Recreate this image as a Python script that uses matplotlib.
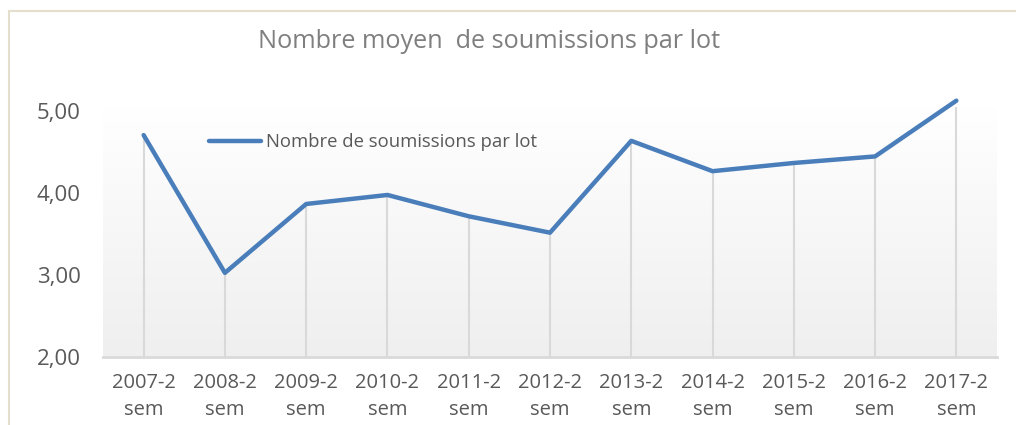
import matplotlib
matplotlib.use("Agg")
import matplotlib.pyplot as plt
import numpy as np
from matplotlib.patches import Rectangle

categories = ["2007-2\nsem", "2008-2\nsem", "2009-2\nsem", "2010-2\nsem", "2011-2\nsem",
              "2012-2\nsem", "2013-2\nsem", "2014-2\nsem", "2015-2\nsem", "2016-2\nsem",
              "2017-2\nsem"]
values = [4.70, 3.02, 3.86, 3.97, 3.71, 3.51, 4.63, 4.26, 4.36, 4.44, 5.12]
yticks = [2.0, 3.0, 4.0, 5.0]
ytick_labels = ["2,00", "3,00", "4,00", "5,00"]

plt.rcParams['font.family'] = ['Open Sans', 'DejaVu Sans']

W, H = 1016, 425
fig = plt.figure(figsize=(W / 100, H / 100), dpi=100)
fig.patch.set_facecolor("white")

# outer border (beige)
fig.add_artist(Rectangle((9 / W, -0.1), 1.2, (H - 11) / H + 0.1, transform=fig.transFigure,
                         fill=False, edgecolor="#e3dfcc", linewidth=1.5))

ax = fig.add_axes([103 / W, (H - 356.5) / H, (997 - 103) / W, (356.5 - 107) / H])
ymin, ymax = 2.0, 2.0 + (356.5 - 107) / 82.0
x = np.arange(len(values))
ax.set_xlim(-0.5, len(values) - 0.5)
ax.set_ylim(ymin, ymax)

# gradient background
grad = np.linspace(0, 1, 256).reshape(-1, 1)
cmap = matplotlib.colors.LinearSegmentedColormap.from_list("g", ["#efefef", "#ffffff"])
ax.imshow(grad, extent=[-0.5, len(values) - 0.5, ymin, ymax], origin="lower",
          aspect="auto", cmap=cmap, zorder=0)

# drop lines
ax.vlines(x, ymin, values, colors="#d9d9d9", linewidth=1.5, zorder=1)
ax.axhline(ymin, color="#d9d9d9", linewidth=2, zorder=1, clip_on=False)

line, = ax.plot(x, values, color="#4a7ebb", linewidth=3.2, solid_capstyle="round",
                solid_joinstyle="round", zorder=3, clip_on=False,
                label="Nombre de soumissions par lot")

for s in ax.spines.values():
    s.set_visible(False)

ax.set_xticks(x)
ax.set_xticklabels(categories, fontsize=14.5, color="#595959", linespacing=1.45)
ax.set_yticks(yticks)
ax.set_yticklabels(ytick_labels, fontsize=16, color="#595959")
ax.tick_params(axis="both", length=0)
ax.tick_params(axis="x", pad=12)
ax.tick_params(axis="y", pad=16)

fig.text(489 / W, 1 - 41 / H, "Nombre moyen  de soumissions par lot", ha="center", va="center",
         fontsize=18.2, color="#7f7f7f")

leg = ax.legend(handles=[line], loc="upper left", bbox_to_anchor=(106 / (997 - 103), 1 - 26 / (356.5 - 107)),
                frameon=False, fontsize=13.3, handlelength=2.8, handletextpad=0.3,
                borderaxespad=0, borderpad=0)
for t in leg.get_texts():
    t.set_color("#595959")

fig.savefig("out.png", dpi=100, facecolor="white")
